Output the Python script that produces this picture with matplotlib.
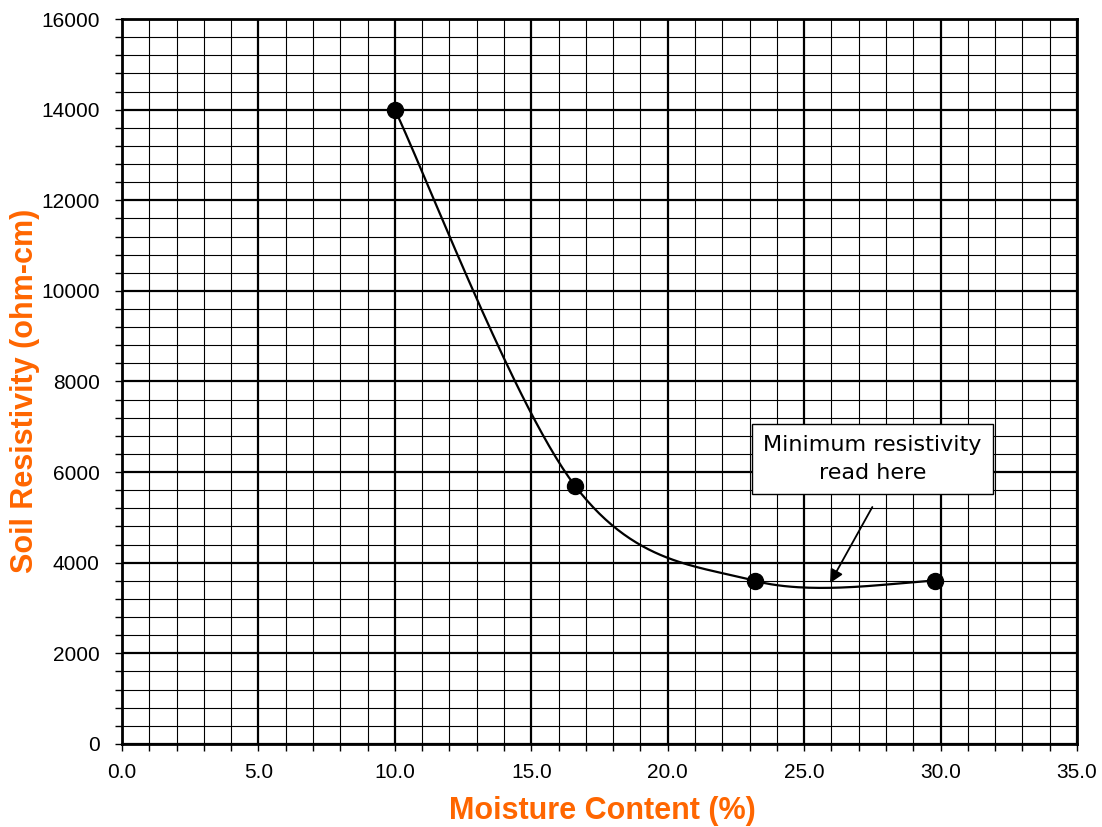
import numpy as np
import matplotlib.pyplot as plt
from matplotlib.ticker import MultipleLocator, FormatStrFormatter

# datos
humedad = [10.0, 16.6, 23.2, 29.8]          # Moisture Content (%)
resistividad = [14000, 5700, 3600, 3600]    # Soil Resistivity (ohm-cm)

nota_texto = "Minimum resistivity\nread here"
nota_texto_xy = (27.5, 6290)
flecha_ini = (27.5, 5230)    # cola de la flecha
flecha_fin = (25.95, 3550)   # punta de la flecha

NARANJA = '#FF6600'


def curva_suave(x, y, n=60):
    # spline tipo Catmull-Rom (como la linea suavizada de Excel)
    p = np.column_stack([x, y]).astype(float)
    p = np.vstack([p[0], p, p[-1]])
    t = np.linspace(0, 1, n)[:, None]
    tramos = []
    for i in range(1, len(p) - 2):
        p0, p1, p2, p3 = p[i - 1], p[i], p[i + 1], p[i + 2]
        c1 = p1 + (p2 - p0) / 6
        c2 = p2 - (p3 - p1) / 6
        b = ((1 - t) ** 3) * p1 + 3 * ((1 - t) ** 2) * t * c1 \
            + 3 * (1 - t) * t ** 2 * c2 + t ** 3 * p2
        tramos.append(b)
    b = np.vstack(tramos)
    return b[:, 0], b[:, 1]


fig = plt.figure(figsize=(11.02, 8.27), dpi=100)
ax = fig.add_axes([0.1107, 0.1004, 0.8666, 0.8766])

ax.set_xlim(0, 35)
ax.set_ylim(0, 16000)
ax.xaxis.set_major_locator(MultipleLocator(5))
ax.xaxis.set_minor_locator(MultipleLocator(1))
ax.yaxis.set_major_locator(MultipleLocator(2000))
ax.yaxis.set_minor_locator(MultipleLocator(400))
ax.xaxis.set_major_formatter(FormatStrFormatter('%.1f'))

ax.grid(which='major', color='black', linewidth=1.6)
ax.grid(which='minor', color='black', linewidth=0.8)
ax.set_axisbelow(True)
for s in ax.spines.values():
    s.set_linewidth(2)

ax.tick_params(which='both', direction='out', length=5, width=1, color='black')
ax.tick_params(which='major', labelsize=15)
ax.tick_params(axis='y', which='major', pad=11)
ax.tick_params(axis='x', which='major', pad=9)
for lab in ax.get_xticklabels() + ax.get_yticklabels():
    lab.set_family('Liberation Sans')

xs, ys = curva_suave(humedad, resistividad)
ax.plot(xs, ys, color='black', linewidth=1.6, zorder=3)
ax.plot(humedad, resistividad, 'o', color='black', markersize=11.5, zorder=4)

# cuadro de texto y flecha
ax.text(*nota_texto_xy, nota_texto, ha='center', va='center', fontsize=16,
        family='DejaVu Sans', linespacing=1.5, zorder=5,
        bbox=dict(boxstyle='square,pad=0.5', facecolor='white',
                  edgecolor='black', linewidth=1))
ax.annotate('', xy=flecha_fin, xytext=flecha_ini,
            arrowprops=dict(arrowstyle='-|>', color='black', lw=1.3,
                            mutation_scale=20, shrinkA=0, shrinkB=0),
            zorder=5)

# titulos de los ejes colocados a mano (como en el original)
fig.text(0.547, 0.019, 'Moisture Content (%)', fontsize=22, fontweight='bold',
         color=NARANJA, family='Liberation Sans', ha='center', va='center')
fig.text(0.0227, 0.527, 'Soil Resistivity (ohm-cm)', fontsize=22,
         fontweight='bold', color=NARANJA, family='Liberation Sans',
         ha='center', va='center', rotation=90)

plt.savefig('out.png', dpi=100)
